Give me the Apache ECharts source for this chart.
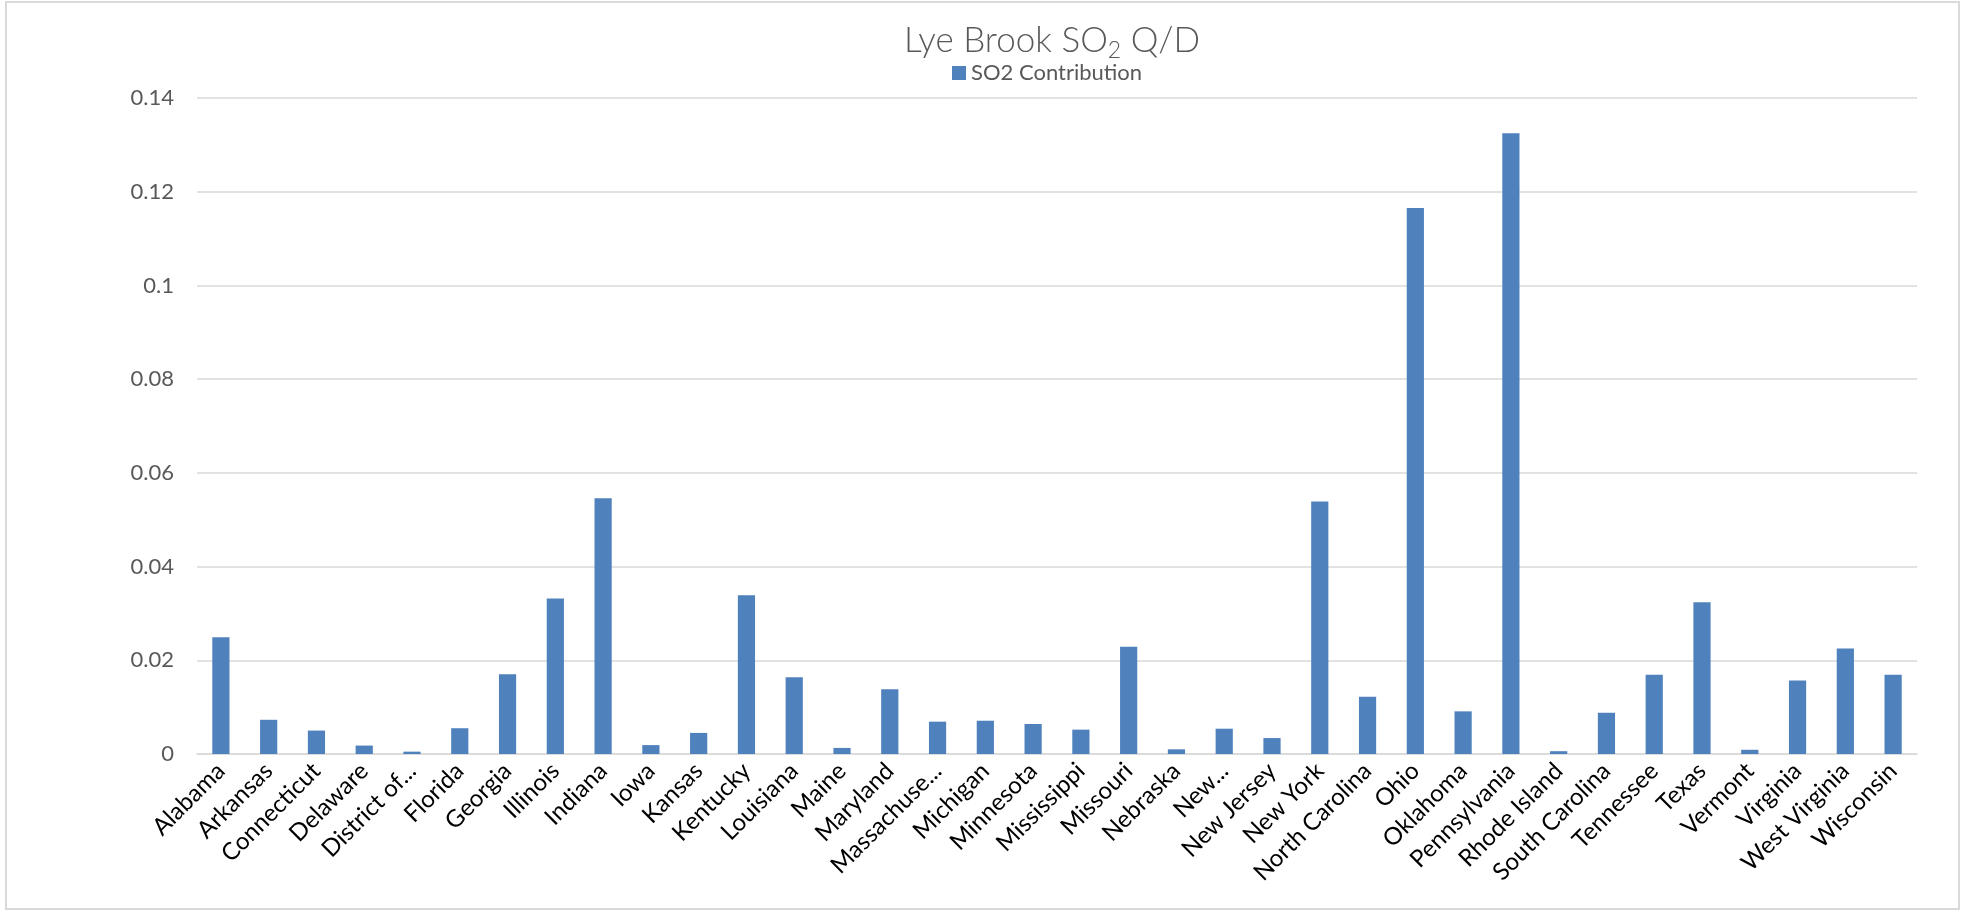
<!DOCTYPE html>
<html>
<head>
<meta charset="utf-8">
<title>Lye Brook SO2 Q/D</title>
<script src="https://cdn.jsdelivr.net/npm/echarts@6/dist/echarts.min.js"></script>
<style>
  html, body { margin: 0; padding: 0; background: #ffffff; }
  #chart { width: 1965px; height: 911px; }
</style>
</head>
<body>
<div id="chart"></div>
<script>
// State tick labels along the category axis
const states = [
  'Alabama', 'Arkansas', 'Connecticut', 'Delaware', 'District of...', 'Florida',
  'Georgia', 'Illinois', 'Indiana', 'Iowa', 'Kansas', 'Kentucky', 'Louisiana',
  'Maine', 'Maryland', 'Massachuse...', 'Michigan', 'Minnesota', 'Mississippi',
  'Missouri', 'Nebraska', 'New...', 'New Jersey', 'New York', 'North Carolina',
  'Ohio', 'Oklahoma', 'Pennsylvania', 'Rhode Island', 'South Carolina',
  'Tennessee', 'Texas', 'Vermont', 'Virginia', 'West Virginia', 'Wisconsin'
];

// SO2 contribution (Q/D) per state
const so2Contribution = [
  0.0249, 0.0073, 0.0050, 0.0018, 0.0005, 0.0055,
  0.0170, 0.0332, 0.0546, 0.0019, 0.0045, 0.0339, 0.0164,
  0.0013, 0.0138, 0.0069, 0.0071, 0.0064, 0.0052,
  0.0229, 0.0010, 0.0054, 0.0034, 0.0539, 0.0122,
  0.1165, 0.0091, 0.1325, 0.0006, 0.0088,
  0.0169, 0.0324, 0.0009, 0.0157, 0.0225, 0.0169
];

const seriesName = 'SO2 Contribution';
const yMin = 0, yMax = 0.14, yStep = 0.02;

const FONT = 'Lato, "Open Sans", sans-serif';
const GREY_TEXT = '#595959';
const GRID_LINE = '#d9d9d9';
const BAR_BLUE = '#4f81bd';

const chart = echarts.init(document.getElementById('chart'), null, { renderer: 'canvas' });

chart.setOption({
  animation: false,
  backgroundColor: '#ffffff',
  textStyle: { fontFamily: FONT },
  graphic: [
    {
      // chart frame
      type: 'rect',
      silent: true,
      shape: { x: 6, y: 2, width: 1953, height: 907 },
      style: { fill: 'none', stroke: GRID_LINE, lineWidth: 2 }
    },
    {
      // title with subscript "2"
      type: 'text',
      silent: true,
      x: 1052,
      y: 41,
      style: {
        text: '{a|Lye Brook SO}{s|2}{a| Q/D}',
        align: 'center',
        verticalAlign: 'middle',
        rich: {
          a: { fontFamily: FONT, fontSize: 35, fontWeight: 300, fill: GREY_TEXT, lineHeight: 42 },
          s: { fontFamily: FONT, fontSize: 23, fontWeight: 300, fill: GREY_TEXT, lineHeight: 20, verticalAlign: 'bottom' }
        }
      }
    }
  ],
  legend: {
    data: [seriesName],
    left: 952,
    top: 62,
    icon: 'rect',
    itemWidth: 14,
    itemHeight: 14,
    itemGap: 10,
    padding: 0,
    textStyle: { fontFamily: FONT, fontSize: 22, color: GREY_TEXT, padding: [0, 0, 0, 0] }
  },
  grid: {
    left: 197,
    right: 48,
    top: 98,
    bottom: 157,
    containLabel: false,
    outerBoundsMode: 'none'
  },
  xAxis: {
    type: 'category',
    data: states,
    boundaryGap: true,
    axisLine: { show: true, lineStyle: { color: GRID_LINE, width: 1.5 } },
    axisTick: { show: false },
    axisLabel: {
      interval: 0,
      rotate: 45,
      margin: 13,
      fontFamily: FONT,
      fontSize: 24,
      color: '#000000'
    },
    splitLine: { show: false }
  },
  yAxis: {
    type: 'value',
    min: yMin,
    max: yMax,
    interval: yStep,
    axisLine: { show: false },
    axisTick: { show: false },
    axisLabel: {
      margin: 23,
      fontFamily: FONT,
      fontSize: 22,
      color: GREY_TEXT,
      formatter: v => String(parseFloat(v.toFixed(2)))
    },
    splitLine: { show: true, lineStyle: { color: GRID_LINE, width: 1.5 } }
  },
  series: [
    {
      name: seriesName,
      type: 'bar',
      data: so2Contribution,
      barCategoryGap: '64%',
      itemStyle: { color: BAR_BLUE }
    }
  ]
});
</script>
</body>
</html>
